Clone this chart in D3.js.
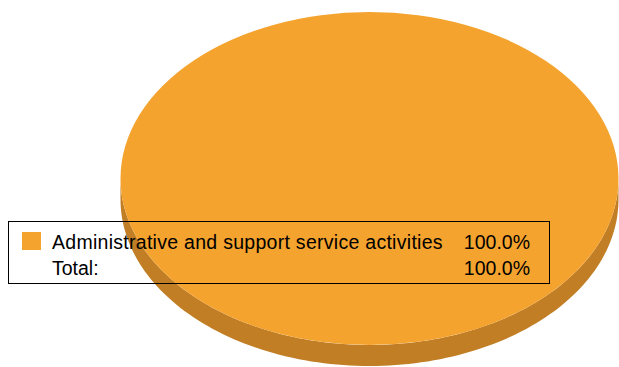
<!DOCTYPE html>
<html><head><meta charset="utf-8">
<script src="https://cdn.jsdelivr.net/npm/d3@7"></script>
<style>html,body{margin:0;padding:0;background:#fff;}svg{display:block;}</style>
</head><body>
<svg id="chart" width="619" height="367"></svg>
<script>
const categories = ["Administrative and support service activities"];
const values = [100.0];
const colors = ["#F4A32E"];
const sideColors = ["#C17E24"];
const totalLabel = "Total:";

const svg = d3.select("#chart");
const cx = 369.5, cy = 178.5, rx = 249, ry = 166.5, depth = 21;

const pie = d3.pie().sort(null).value(d => d)(values);
const total = d3.sum(values);
const fmt = v => (v / total * 100).toFixed(1) + "%";

// side walls
const pt = (a, dy) => [cx + rx * Math.sin(a), cy - ry * Math.cos(a) + dy];
pie.forEach((s, i) => {
  const a0 = Math.max(s.startAngle, Math.PI / 2), a1 = Math.min(s.endAngle, 3 * Math.PI / 2);
  if (a1 <= a0) return;
  const n = 120, p = d3.path();
  let first = pt(a0, 0); p.moveTo(first[0], first[1]);
  for (let k = 1; k <= n; k++) { const q = pt(a0 + (a1 - a0) * k / n, 0); p.lineTo(q[0], q[1]); }
  for (let k = n; k >= 0; k--) { const q = pt(a0 + (a1 - a0) * k / n, depth); p.lineTo(q[0], q[1]); }
  p.closePath();
  svg.append("path").attr("d", p.toString()).attr("fill", sideColors[i]);
});

// top face
const arc = d3.arc().innerRadius(0).outerRadius(1);
svg.append("g").attr("transform", `translate(${cx},${cy}) scale(${rx},${ry})`)
  .selectAll("path").data(pie).join("path")
  .attr("d", arc).attr("fill", (d, i) => colors[i]);

// legend
const font = "Liberation Sans, Arial, sans-serif", fs = 19.5;
const lg = svg.append("g");
lg.append("rect").attr("x", 8.5).attr("y", 221.5).attr("width", 541).attr("height", 62)
  .attr("fill", "none").attr("stroke", "#000").attr("stroke-width", 1);
categories.forEach((c, i) => {
  const y = 249 + i * 26;
  lg.append("rect").attr("x", 22).attr("y", y - 17).attr("width", 19).attr("height", 18).attr("fill", colors[i]);
  lg.append("text").attr("x", 52).attr("y", y).text(c).attr("letter-spacing", 0.28)
    .attr("font-family", font).attr("font-size", fs).attr("fill", "#000");
  lg.append("text").attr("x", 530).attr("y", y).attr("text-anchor", "end").text(fmt(values[i]))
    .attr("font-family", font).attr("font-size", fs).attr("fill", "#000");
});
const ty = 249 + categories.length * 26;
lg.append("text").attr("x", 52).attr("y", ty).text(totalLabel)
  .attr("font-family", font).attr("font-size", fs).attr("fill", "#000");
lg.append("text").attr("x", 530).attr("y", ty).attr("text-anchor", "end").text(fmt(total))
  .attr("font-family", font).attr("font-size", fs).attr("fill", "#000");
</script>
</body></html>
